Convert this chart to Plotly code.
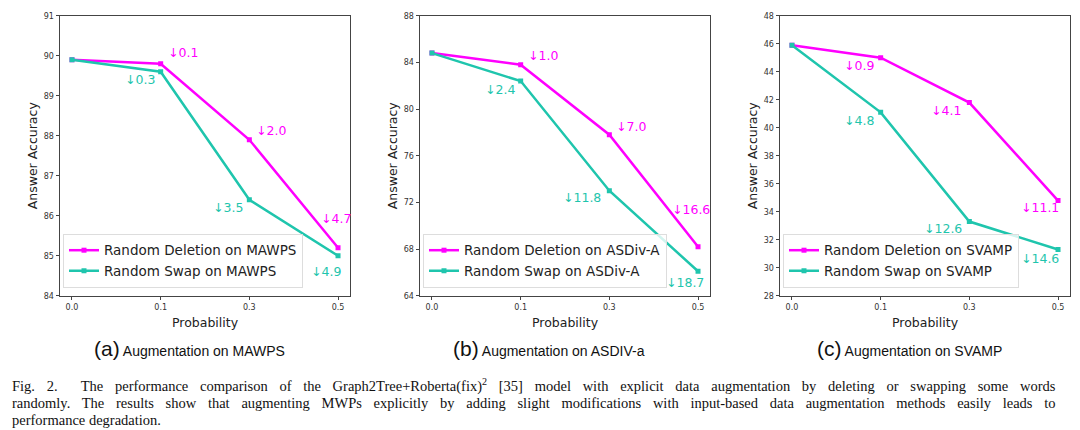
import plotly.graph_objects as go

# ---------------- data ----------------
probabilities = ["0.0", "0.1", "0.3", "0.5"]
datasets = ["MAWPS", "ASDiv-A", "SVAMP"]
subcaption_letters = ["(a)", "(b)", "(c)"]
subcaption_texts = ["Augmentation on MAWPS", "Augmentation on ASDIV-a", "Augmentation on SVAMP"]

mawps_deletion = [89.9, 89.8, 87.9, 85.2]
mawps_swap = [89.9, 89.6, 86.4, 85.0]
asdiv_deletion = [84.8, 83.8, 77.8, 68.2]
asdiv_swap = [84.8, 82.4, 73.0, 66.1]
svamp_deletion = [45.9, 45.0, 41.8, 34.8]
svamp_swap = [45.9, 41.1, 33.3, 31.3]

y_ranges = [(84, 91), (64, 88), (28, 48)]
y_dticks = [1, 4, 2]

caption_lines = [
    "Fig. 2.&nbsp; The performance comparison of the Graph2Tree+Roberta(fix)<sup>2</sup> [35] model with explicit data augmentation by deleting or swapping some words",
    "randomly. The results show that augmenting MWPs explicitly by adding slight modifications with input-based data augmentation methods easily leads to",
    "performance degradation.",
]

# ---------------- styles ----------------
DEL_COLOR = "#ff00ff"
SWAP_COLOR = "#1fc5ad"
W, H = 1080, 430
x_px = [(60, 350), (420, 710), (780, 1070)]
y_px = (12, 298)
caption_word_spacing = [8.1, 8.1, 0]
caption_y = [390, 408, 425]

# label offsets per panel: (xanchor, xshift, yshift) for points 1..3
del_offsets = [
    [("left", 5, 11), ("left", 5, 9), ("center", -2, 29)],
    [("left", 5, 9), ("left", 5, 8), ("center", -7, 37)],
    [("right", -5, -8), ("right", -6, -8), ("right", 3, -7)],
]
swap_offsets = [
    [("right", -4, -8), ("right", -4, -8), ("center", -12, -16)],
    [("right", -4, -8), ("right", -6, -7), ("center", -13, -11)],
    [("right", -5, -8), ("right", -5, -7), ("right", 3, -9)],
]

series = [(mawps_deletion, mawps_swap), (asdiv_deletion, asdiv_swap), (svamp_deletion, svamp_swap)]

fig = go.Figure()
annotations = []
layout = {}
for i, (dele, swap) in enumerate(series):
    sfx = "" if i == 0 else str(i + 1)
    xa, ya = "x" + sfx, "y" + sfx
    leg = "legend" + sfx
    fig.add_trace(go.Scatter(
        x=probabilities, y=dele, mode="lines+markers", xaxis=xa, yaxis=ya,
        name=f"Random Deletion on {datasets[i]}", legend=leg,
        line=dict(color=DEL_COLOR, width=2.5),
        marker=dict(symbol="square", size=5, color=DEL_COLOR)))
    fig.add_trace(go.Scatter(
        x=probabilities, y=swap, mode="lines+markers", xaxis=xa, yaxis=ya,
        name=f"Random Swap on {datasets[i]}", legend=leg,
        line=dict(color=SWAP_COLOR, width=2.5),
        marker=dict(symbol="square", size=5, color=SWAP_COLOR)))

    x0, x1 = x_px[i]
    layout["xaxis" + sfx] = dict(
        domain=[x0 / W, x1 / W], anchor=ya, type="category",
        range=[-0.135, 3.135], showline=True, mirror=True, linecolor="#444", linewidth=1,
        ticks="outside", ticklen=3.5, tickcolor="#444", tickwidth=1,
        tickfont=dict(family="DejaVu Sans", size=8, color="#333"),
        showgrid=False, zeroline=False,
        title=dict(text="Probability", font=dict(family="DejaVu Sans", size=12.5, color="#222"), standoff=7),
    )
    lo, hi = y_ranges[i]
    layout["yaxis" + sfx] = dict(
        domain=[1 - y_px[1] / H, 1 - y_px[0] / H], anchor=xa,
        range=[lo, hi], dtick=y_dticks[i], tick0=lo,
        showline=True, mirror=True, linecolor="#444", linewidth=1,
        ticks="outside", ticklen=3.5, tickcolor="#444", tickwidth=1,
        tickfont=dict(family="DejaVu Sans", size=8, color="#333"),
        showgrid=False, zeroline=False,
        title=dict(text="Answer Accuracy", font=dict(family="DejaVu Sans", size=12.5, color="#222"), standoff=3),
    )
    layout[leg] = dict(
        x=(x0 + 3) / W, y=1 - (y_px[1] - 8) / H, xanchor="left", yanchor="bottom",
        bgcolor="rgba(255,255,255,0.8)", bordercolor="#dddddd", borderwidth=1,
        font=dict(family="DejaVu Sans", size=13.5, color="#222"),
        tracegroupgap=0, itemwidth=30,
    )

    for vals, offs, col in ((dele, del_offsets[i], DEL_COLOR), (swap, swap_offsets[i], SWAP_COLOR)):
        for k in range(1, 4):
            anchor, xs, ys = offs[k - 1]
            annotations.append(dict(
                x=k, y=vals[k], xref=xa, yref=ya,
                text=f"↓{vals[0] - vals[k]:.1f}", showarrow=False,
                xanchor=anchor, yanchor="middle", xshift=xs, yshift=ys,
                font=dict(family="DejaVu Sans", size=12.5, color=col)))

    # subcaption
    cx = (x0 + x1) / 2 - 16
    annotations.append(dict(
        x=cx / W, y=1 - 352 / H, xref="paper", yref="paper", showarrow=False,
        xanchor="center", yanchor="middle",
        text=f"<span style='font-size:21px'>{subcaption_letters[i]}</span> {subcaption_texts[i]}",
        font=dict(family="Liberation Sans", size=14, color="#111")))

for line, yy, ws in zip(caption_lines, caption_y, caption_word_spacing):
    annotations.append(dict(
        x=10 / W, y=1 - yy / H, xref="paper", yref="paper", showarrow=False,
        xanchor="left", yanchor="middle",
        text=f"<span style='word-spacing:{ws}px'>{line}</span>",
        font=dict(family="Liberation Serif", size=14.5, color="#111")))

fig.update_layout(
    width=W, height=H, margin=dict(l=0, r=0, t=0, b=0),
    paper_bgcolor="white", plot_bgcolor="white",
    annotations=annotations, **layout)

fig.write_html("out.html", config={"displayModeBar": False},
               post_script="document.body.style.margin='0';")
